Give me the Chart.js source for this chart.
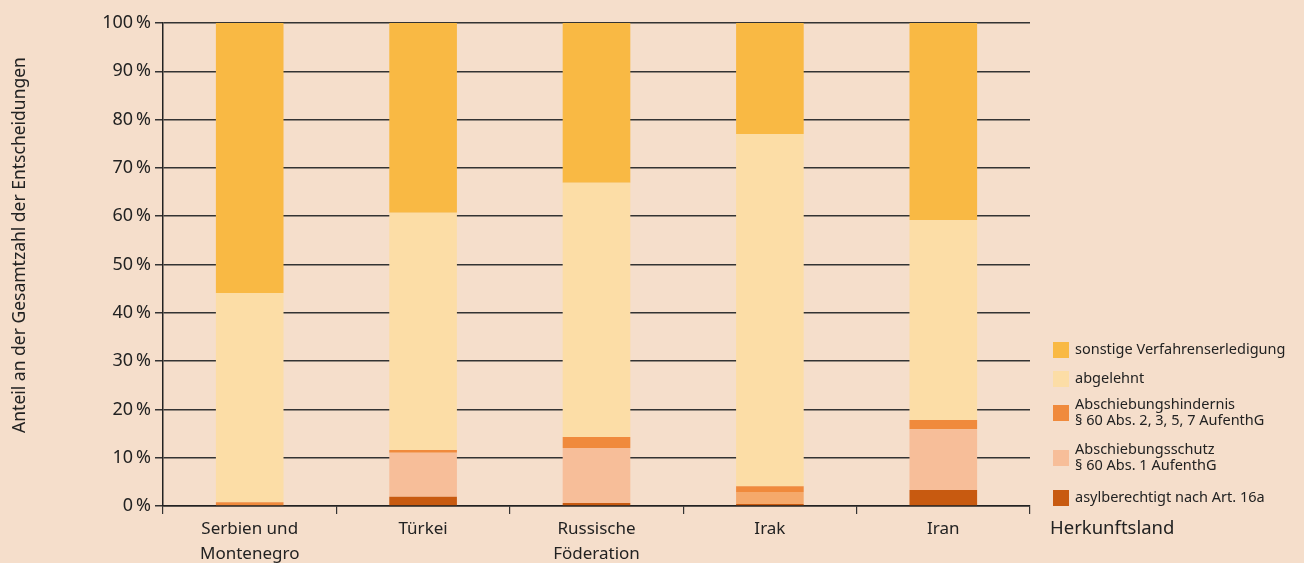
<!DOCTYPE html>
<html>
<head>
<meta charset="utf-8">
<script src="https://cdn.jsdelivr.net/npm/chart.js@4"></script>
<style>
  html, body { margin: 0; padding: 0; background: #F5DECB; }
  #wrap { width: 1304px; height: 563px; }
</style>
</head>
<body>
<div id="wrap"><canvas id="chart" width="1304" height="563"></canvas></div>
<script>
const countries = [["Serbien und", "Montenegro"], "Türkei", ["Russische", "Föderation"], "Irak", "Iran"]
const yTicks = [0, 10, 20, 30, 40, 50, 60, 70, 80, 90, 100]

// Anteile in %, von unten nach oben gestapelt
const asylberechtigt = [0, 1.9, 0.6, 0.4, 3.3]
const abschiebungsschutz = [0, 9.1, 11.4, 2.5, 12.6]
const abschiebungshindernis = [0.8, 0.6, 2.3, 1.2, 1.9]
const abgelehnt = [43.3, 49.1, 52.6, 72.9, 41.4]
const sonstige = [55.9, 39.3, 33.1, 23.0, 40.8]

const legendItems = [
  { text: ["sonstige Verfahrenserledigung"], color: "#F9B944" },
  { text: ["abgelehnt"], color: "#FCDDA6" },
  { text: ["Abschiebungshindernis", "§ 60 Abs. 2, 3, 5, 7 AufenthG"], color: "#F08A3C" },
  { text: ["Abschiebungsschutz", "§ 60 Abs. 1 AufenthG"], color: "#F7BE99" },
  { text: ["asylberechtigt nach Art. 16a"], color: "#C85A10" }
]

const FONT = "'Noto Sans', sans-serif"

const extras = {
  id: "extras",
  afterDraw(chart) {
    const ctx = chart.ctx
    ctx.save()
    // y axis title
    ctx.fillStyle = "#222"
    ctx.font = "17.5px " + FONT
    ctx.translate(20, 245)
    ctx.rotate(-Math.PI / 2)
    ctx.textAlign = "center"
    ctx.textBaseline = "middle"
    ctx.fillText("Anteil an der Gesamtzahl der Entscheidungen", 0, 0)
    ctx.restore()

    ctx.save()
    ctx.font = "18.5px " + FONT
    ctx.fillStyle = "#222"
    ctx.textBaseline = "middle"
    ctx.fillText("Herkunftsland", 1050, 529)

    // legend
    const centers = [350, 379, 413, 458, 498]
    ctx.font = "14.5px " + FONT
    legendItems.forEach((item, i) => {
      const cy = centers[i]
      ctx.fillStyle = item.color
      ctx.fillRect(1053, cy - 8, 16, 16)
      ctx.fillStyle = "#222"
      const n = item.text.length
      item.text.forEach((t, j) => {
        ctx.fillText(t, 1075, cy + (j - (n - 1) / 2) * 15.5)
      })
    })
    ctx.restore()
  }
}

const ds = (label, data, color) => ({
  label, data, backgroundColor: color, borderWidth: 0,
  barPercentage: 0.39, categoryPercentage: 1
})

new Chart(document.getElementById("chart"), {
  type: "bar",
  data: {
    labels: countries,
    datasets: [
      ds("asylberechtigt nach Art. 16a", asylberechtigt, "#C85A10"),
      ds("Abschiebungsschutz", abschiebungsschutz, ["#F7BE99", "#F7BE99", "#F7BE99", "#F5A96B", "#F7BE99"]),
      ds("Abschiebungshindernis", abschiebungshindernis, "#F08A3C"),
      ds("abgelehnt", abgelehnt, "#FCDDA6"),
      ds("sonstige Verfahrenserledigung", sonstige, "#F9B944")
    ]
  },
  options: {
    responsive: false,
    animation: false,
    layout: { padding: { left: 0, right: 274, top: 23, bottom: 0 } },
    plugins: { legend: { display: false }, tooltip: { enabled: false } },
    scales: {
      x: {
        stacked: true,
        afterFit: (s) => { s.height = 57 },
        grid: { drawOnChartArea: false, drawTicks: true, tickLength: 8, color: "#333", lineWidth: 1.2, offset: true },
        border: { color: "#222", width: 1.5 },
        ticks: { color: "#222", font: { family: FONT, size: 17, lineHeight: 1.45 }, maxRotation: 0, padding: 3 }
      },
      y: {
        stacked: true,
        min: 0,
        max: 100,
        afterFit: (s) => { s.width = 163 },
        afterBuildTicks: (s) => { s.ticks = yTicks.map(v => ({ value: v })) },
        grid: { color: "#333", lineWidth: 1.5, tickLength: 8 },
        border: { color: "#222", width: 1.5 },
        ticks: {
          color: "#222", font: { family: FONT, size: 18 }, padding: 4,
          callback: (v) => v + "\u2009%"
        }
      }
    }
  },
  plugins: [extras]
})
</script>
</body>
</html>
